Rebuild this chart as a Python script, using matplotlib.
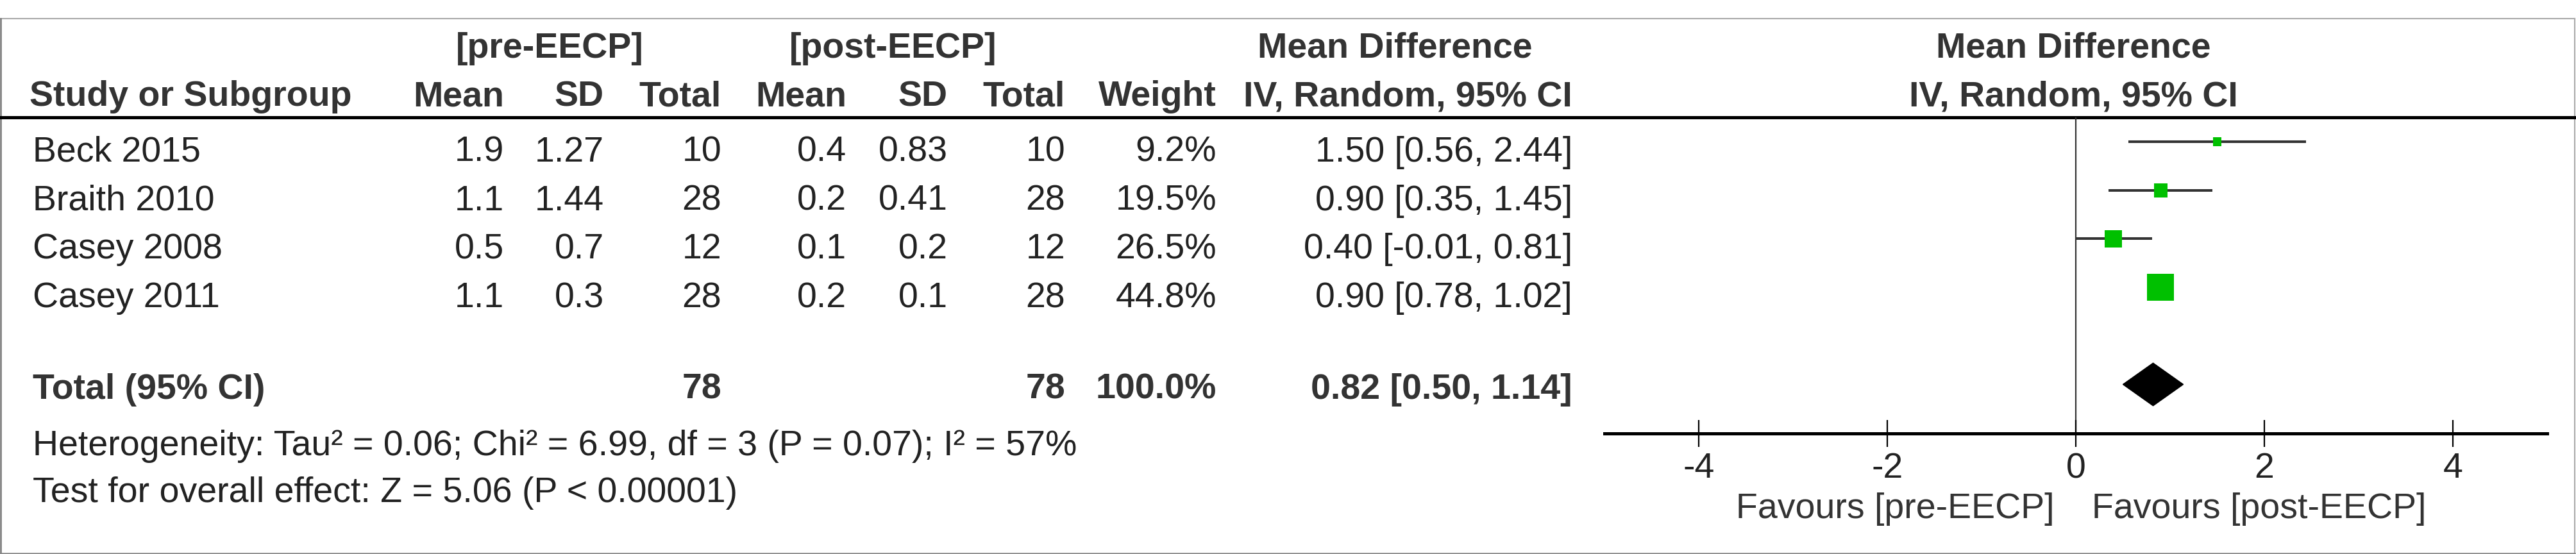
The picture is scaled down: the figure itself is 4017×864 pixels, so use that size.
"""Forest plot: pre-EECP vs post-EECP, mean difference (IV, random)."""

import matplotlib
matplotlib.use("Agg")
import matplotlib.pyplot as plt
from matplotlib.patches import Rectangle, Polygon

plt.rcParams["font.family"] = ["Liberation Sans", "DejaVu Sans"]
plt.rcParams["axes.unicode_minus"] = False

# ---- data ----
studies = ["Beck 2015", "Braith 2010", "Casey 2008", "Casey 2011"]
pre_mean = [1.9, 1.1, 0.5, 1.1]
pre_sd = [1.27, 1.44, 0.7, 0.3]
pre_n = [10, 28, 12, 28]
post_mean = [0.4, 0.2, 0.1, 0.2]
post_sd = [0.83, 0.41, 0.2, 0.1]
post_n = [10, 28, 12, 28]
weight = [9.2, 19.5, 26.5, 44.8]
md = [1.50, 0.90, 0.40, 0.90]
ci_lo = [0.56, 0.35, -0.01, 0.78]
ci_hi = [2.44, 1.45, 0.81, 1.02]

total_n_pre = 78
total_n_post = 78
total_weight = 100.0
total_md = 0.82
total_lo = 0.50
total_hi = 1.14

heterogeneity = "Heterogeneity: Tau\u00b2 = 0.06; Chi\u00b2 = 6.99, df = 3 (P = 0.07); I\u00b2 = 57%"
overall = "Test for overall effect: Z = 5.06 (P < 0.00001)"
xticks = [-4, -2, 0, 2, 4]
xlim = (-5, 5)

# ---- layout (pixels of a 4017x864 canvas) ----
W, H = 4017, 864
FS = 40
TXT = "#222222"
col_right = [786, 942, 1125, 1320, 1478, 1661, 1897, 2452]
row0_base, row_h = 252, 75.7
total_base = 622
plot_left, plot_right = 2502, 3972
plot_top, axis_y = 183, 676
row0_ci = 221

fig = plt.figure(figsize=(W / 100, H / 100), dpi=100)
ax = fig.add_axes([0, 0, 1, 1])
ax.set_xlim(0, W)
ax.set_ylim(H, 0)
ax.axis("off")

# frame and header rule
ax.plot([0, W - 2], [29, 29], color="#aaaaaa", lw=1.5)
ax.plot([1, 1], [29, H - 1], color="#777777", lw=1.8)
ax.plot([W - 2, W - 2], [29, H - 1], color="#aaaaaa", lw=1.5)
ax.plot([0, W - 2], [H - 1, H - 1], color="#888888", lw=1.8)
ax.plot([0, W - 2], [plot_top, plot_top], color="black", lw=3.6)

# header rows
bold = dict(fontsize=FS, fontweight="bold", color="#333333")
ax.text(857, 90, "[pre-EECP]", ha="center", va="baseline", **bold)
ax.text(1393, 90, "[post-EECP]", ha="center", va="baseline", **bold)
ax.text(2175, 90, "Mean Difference", ha="center", va="baseline", **bold)
ax.text(3233, 90, "Mean Difference", ha="center", va="baseline", **bold)
ax.text(46, 165, "Study or Subgroup", ha="left", va="baseline", **bold)
sub_heads = ["Mean", "SD", "Total", "Mean", "SD", "Total", "Weight", "IV, Random, 95% CI"]
for x, s in zip(col_right, sub_heads):
    ax.text(x, 165, s, ha="right", va="baseline", **bold)
ax.text(3233, 165, "IV, Random, 95% CI", ha="center", va="baseline", **bold)

# study rows
for i, name in enumerate(studies):
    yb = row0_base + i * row_h
    cells = [
        str(pre_mean[i]), str(pre_sd[i]), str(pre_n[i]),
        str(post_mean[i]), str(post_sd[i]), str(post_n[i]),
        f"{weight[i]:.1f}%",
        f"{md[i]:.2f} [{ci_lo[i]:.2f}, {ci_hi[i]:.2f}]",
    ]
    ax.text(51, yb, name, ha="left", va="baseline", fontsize=FS, color=TXT)
    for x, s in zip(col_right, cells):
        ax.text(x, yb, s, ha="right", va="baseline", fontsize=FS, color=TXT)

# total row
ax.text(51, total_base, "Total (95% CI)", ha="left", va="baseline", **bold)
tot_cells = {2: str(total_n_pre), 5: str(total_n_post), 6: f"{total_weight:.1f}%",
             7: f"{total_md:.2f} [{total_lo:.2f}, {total_hi:.2f}]"}
for k, s in tot_cells.items():
    ax.text(col_right[k], total_base, s, ha="right", va="baseline", **bold)

ax.text(51, 710, heterogeneity, ha="left", va="baseline", fontsize=FS, color=TXT)
ax.text(51, 783, overall, ha="left", va="baseline", fontsize=FS, color=TXT)

# favours labels
zero_px = plot_left + (0 - xlim[0]) / (xlim[1] - xlim[0]) * (plot_right - plot_left)
ax.text(zero_px - 33, 808, "Favours [pre-EECP]", ha="right", va="baseline", fontsize=FS, color="#333333")
ax.text(zero_px + 25, 808, "Favours [post-EECP]", ha="left", va="baseline", fontsize=FS, color="#333333")

# ---- forest panel ----
r_top = (plot_top - row0_ci) / row_h
r_bot = (axis_y - row0_ci) / row_h
fa = fig.add_axes([plot_left / W, (H - axis_y) / H,
                   (plot_right - plot_left) / W, (axis_y - plot_top) / H])
fa.patch.set_visible(False)
fa.set_xlim(*xlim)
fa.set_ylim(r_bot, r_top)
for s in ["top", "left", "right"]:
    fa.spines[s].set_visible(False)
fa.spines["bottom"].set_linewidth(3.6)
fa.spines["bottom"].set_color("black")
fa.set_yticks([])
fa.set_xticks(xticks)
fa.set_xticklabels([str(t) for t in xticks])
fa.tick_params(axis="x", direction="inout", length=30, width=1.6, color="black",
               labelsize=FS, labelcolor=TXT, pad=6)

fa.axvline(0, color="#333333", lw=1.6, zorder=1)

px_per_x = (plot_right - plot_left) / (xlim[1] - xlim[0])
for i in range(len(studies)):
    fa.plot([ci_lo[i], ci_hi[i]], [i, i], color="#333333", lw=2.9, solid_capstyle="butt", zorder=2)
    side = 6 + 0.8 * weight[i]
    w = side / px_per_x
    h = side / row_h
    fa.add_patch(Rectangle((md[i] - w / 2, i - h / 2), w, h, facecolor="#00c000",
                           edgecolor="none", zorder=3))

tot_row = len(studies) + 1
dh = 0.44
fa.add_patch(Polygon([[total_lo, tot_row], [total_md, tot_row - dh],
                      [total_hi, tot_row], [total_md, tot_row + dh]],
                     closed=True, facecolor="black", edgecolor="black", zorder=3))

fig.savefig("out.png", dpi=100)
